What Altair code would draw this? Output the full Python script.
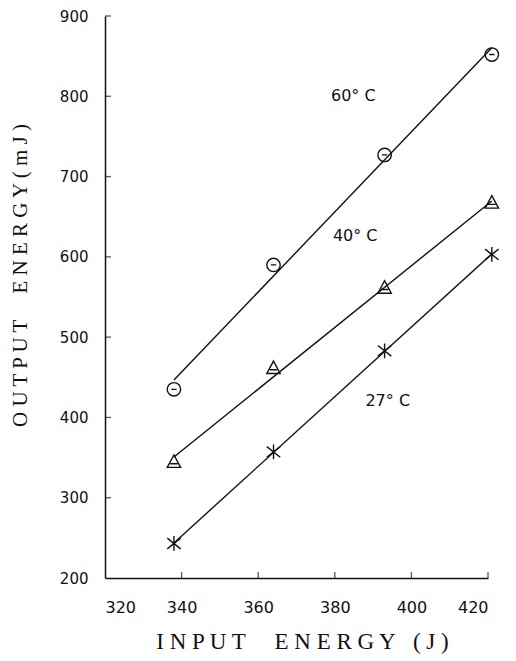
import altair as alt
import pandas as pd

# ---- data ----
input_energy = [338, 364, 393, 421]
series_names = ["60° C", "40° C", "27° C"]
out_60 = [435, 590, 727, 852]
out_40 = [344, 461, 561, 667]
out_27 = [243, 357, 483, 603]

label_x = [379, 379.5, 388]
label_y = [800, 626, 421]

x_tick_values = [340, 360, 380, 400, 420]
y_tick_values = [300, 400, 500, 600, 700, 800, 900]

rows = []
for name, vals in zip(series_names, [out_60, out_40, out_27]):
    for xv, yv in zip(input_energy, vals):
        rows.append({"series": name, "x": xv, "y": yv})
df = pd.DataFrame(rows)
labels_df = pd.DataFrame({"series": series_names, "x": label_x, "y": label_y})
xt_df = pd.DataFrame({"x": x_tick_values, "y": [200] * len(x_tick_values)})
yt_df = pd.DataFrame({"y": y_tick_values, "x": [320] * len(y_tick_values)})

FONT = "DejaVu Sans"
INK = "#111111"

x_scale = alt.Scale(domain=[320, 420], nice=False, zero=False)
y_scale = alt.Scale(domain=[200, 900], nice=False, zero=False)

circ = "M-1,0A1,1,0,1,1,1,0A1,1,0,1,1,-1,0ZM-0.4,0L0.4,0"
tri = "M0,-1.1L1,0.75L-1,0.75ZM-0.55,0.2L0.55,0.2"
ast = "M-1,-0.8L1,0.8M-1,0.8L1,-0.8M0,-1.1L0,1.1"

NB = "\u00a0"
x_title = "I N P U T" + NB * 5 + "E N E R G Y" + NB * 3 + "(" + NB + "J" + NB + ")"
y_title = "O U T P U T" + NB * 5 + "E N E R G Y ( m J )"

x_axis = alt.Axis(
    values=[320, 340, 360, 380, 400, 420], ticks=False, grid=False,
    domainColor=INK, domainWidth=1.5, labelFont=FONT, labelFontSize=16,
    labelColor=INK, labelPadding=21,
    title=x_title, titleFont="Liberation Serif",
    titleFontSize=23, titleFontWeight="normal", titleColor=INK,
    titleX=197, titleY=63, titleBaseline="middle", titleAlign="center",
)
y_axis = alt.Axis(
    values=[200, 300, 400, 500, 600, 700, 800, 900], ticks=False, grid=False,
    domainColor=INK, domainWidth=1.5, labelFont=FONT, labelFontSize=15,
    labelColor=INK, labelPadding=17,
    title=y_title, titleFont="Liberation Serif",
    titleFontSize=21, titleFontWeight="normal", titleColor=INK,
    titleX=-85, titleY=259, titleBaseline="middle", titleAlign="center", titleAngle=-90,
)

base = alt.Chart(df)

lines = base.transform_regression("x", "y", groupby=["series"]).mark_line(
    color=INK, strokeWidth=1.4
).encode(
    x=alt.X("x:Q", scale=x_scale, axis=x_axis),
    y=alt.Y("y:Q", scale=y_scale, axis=y_axis),
    detail="series:N",
)

points = base.mark_point(filled=False, color=INK, strokeWidth=1.4, size=180, opacity=1).encode(
    x=alt.X("x:Q", scale=x_scale),
    y=alt.Y("y:Q", scale=y_scale),
    shape=alt.Shape("series:N", scale=alt.Scale(domain=series_names, range=[circ, tri, ast]), legend=None),
)

texts = alt.Chart(labels_df).mark_text(
    align="left", baseline="middle", font=FONT, fontSize=16, color=INK
).encode(
    x=alt.X("x:Q", scale=x_scale),
    y=alt.Y("y:Q", scale=y_scale),
    text="series:N",
)

xticks = alt.Chart(xt_df).mark_tick(orient="vertical", size=6, thickness=1.3, color=INK, yOffset=-3).encode(
    x=alt.X("x:Q", scale=x_scale),
    y=alt.Y("y:Q", scale=y_scale),
)
yticks = alt.Chart(yt_df).mark_tick(orient="horizontal", size=6, thickness=1.3, color=INK, xOffset=3).encode(
    x=alt.X("x:Q", scale=x_scale),
    y=alt.Y("y:Q", scale=y_scale),
)

chart = alt.layer(lines, points, texts, xticks, yticks).properties(
    width=383, height=562,
    autosize=alt.AutoSizeParams(type="none"),
    padding={"left": 97, "top": 8, "right": 20, "bottom": 80},
    background="white",
).configure_view(stroke=None)

chart.save("out.html", embed_options={"renderer": "svg", "actions": False})
